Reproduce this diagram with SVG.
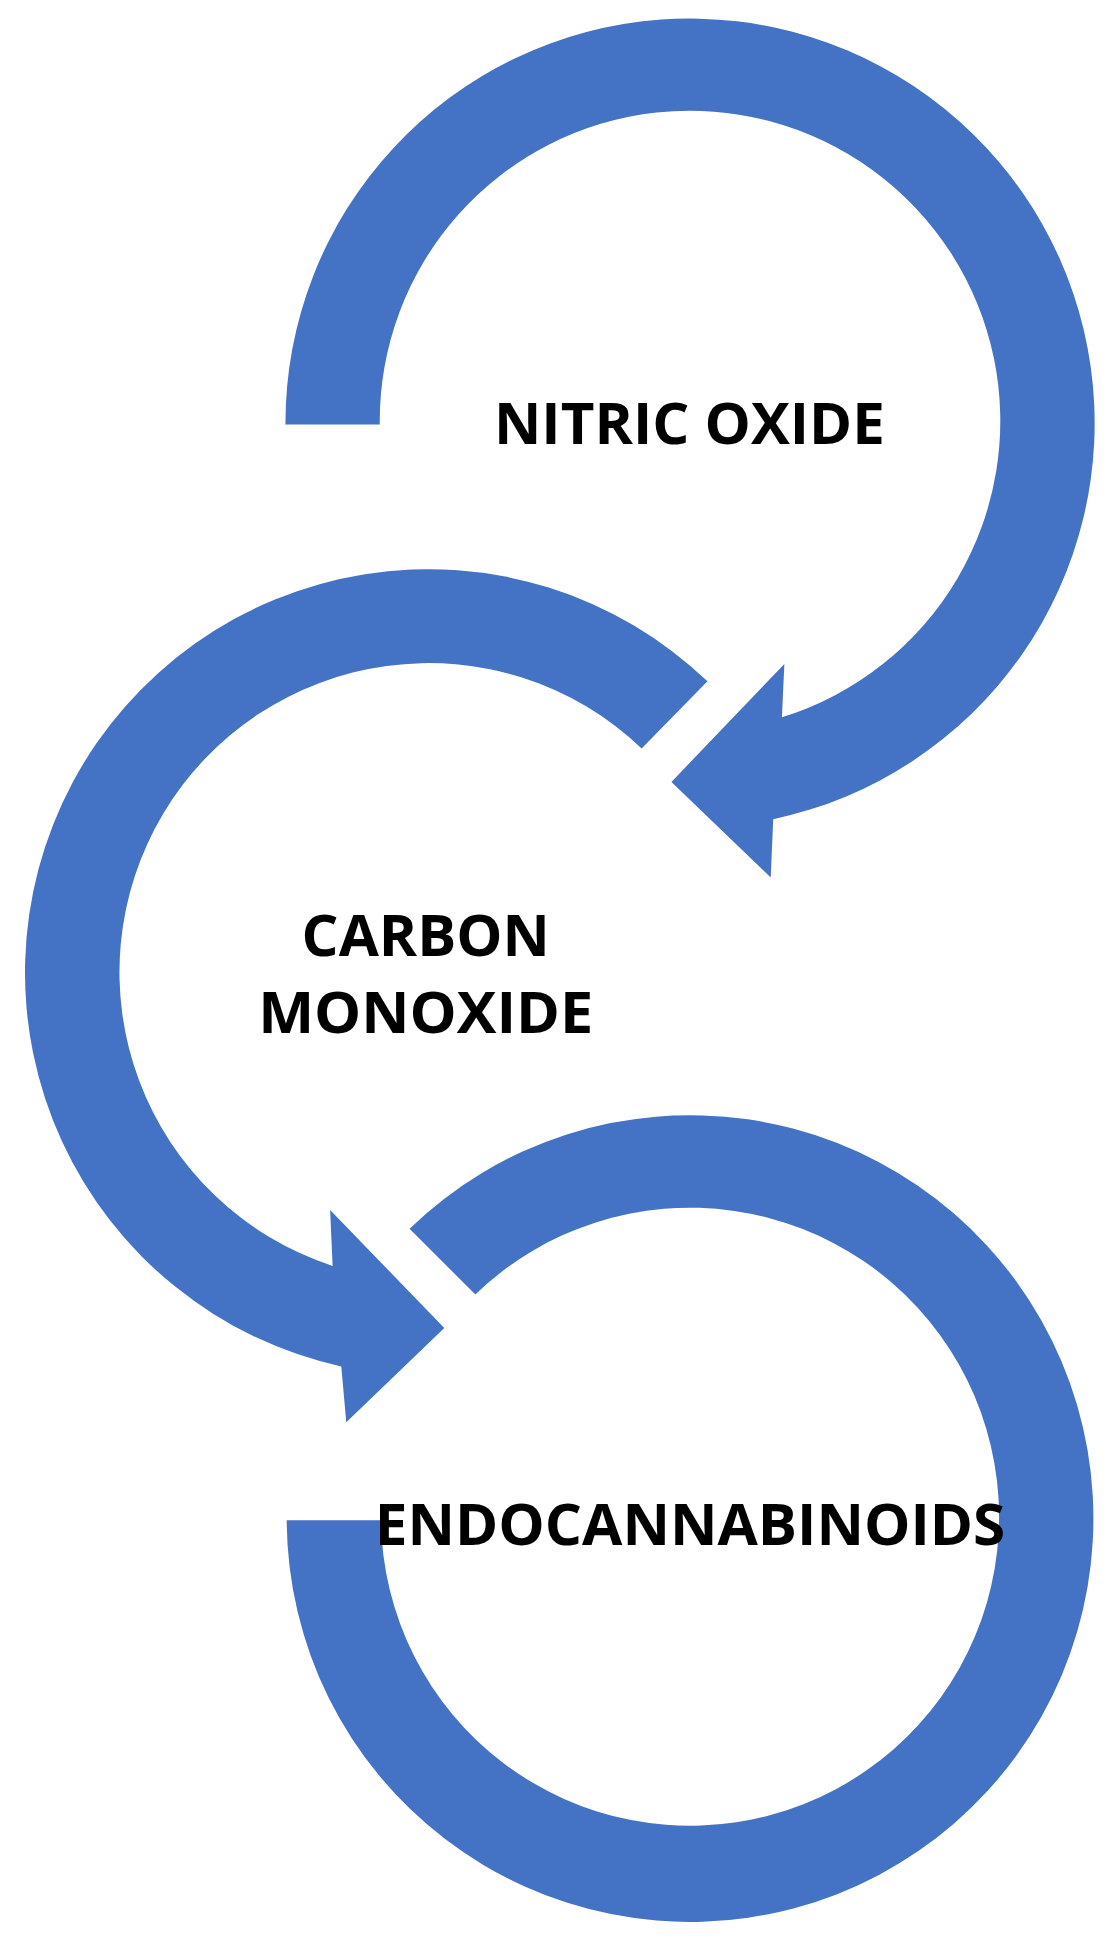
<svg xmlns="http://www.w3.org/2000/svg" width="1117" height="1946" viewBox="0 0 1117 1946">
<style>
.a{fill:#4472C4}
.t{font-family:"Open Sans","Liberation Sans",sans-serif;font-weight:bold;font-size:46px;fill:#000}
</style>
<rect width="1117" height="1946" fill="#fff"/>
<g transform="scale(1.2411)">
<g id="connectors">
<path class="a" d="M230,342 A326,326 0 1 1 623,660 L621,707 L541,630 L632,535 L630,578 A250,250 0 1 0 306,342 Z"/>
<path class="a" d="M570,549 A325,325 0 1 0 275,1101 L279,1146 L358,1070 L266,975 L268,1020 A249,249 0 1 1 517,603 Z"/>
<path class="a" d="M330,990 A325,325 0 1 1 231,1225 L307,1225 A249,249 0 1 0 383,1043 Z"/>
</g>
<g id="n1"><text class="t" x="398" y="358" textLength="315" lengthAdjust="spacingAndGlyphs">NITRIC OXIDE</text></g>
<g id="n2"><text class="t" x="243" y="770" textLength="200" lengthAdjust="spacingAndGlyphs">CARBON</text>
<text class="t" x="208" y="832" textLength="270" lengthAdjust="spacingAndGlyphs">MONOXIDE</text></g>
<g id="n3"><text class="t" x="302" y="1245" textLength="508" lengthAdjust="spacingAndGlyphs">ENDOCANNABINOIDS</text></g>
</g>
</svg>
